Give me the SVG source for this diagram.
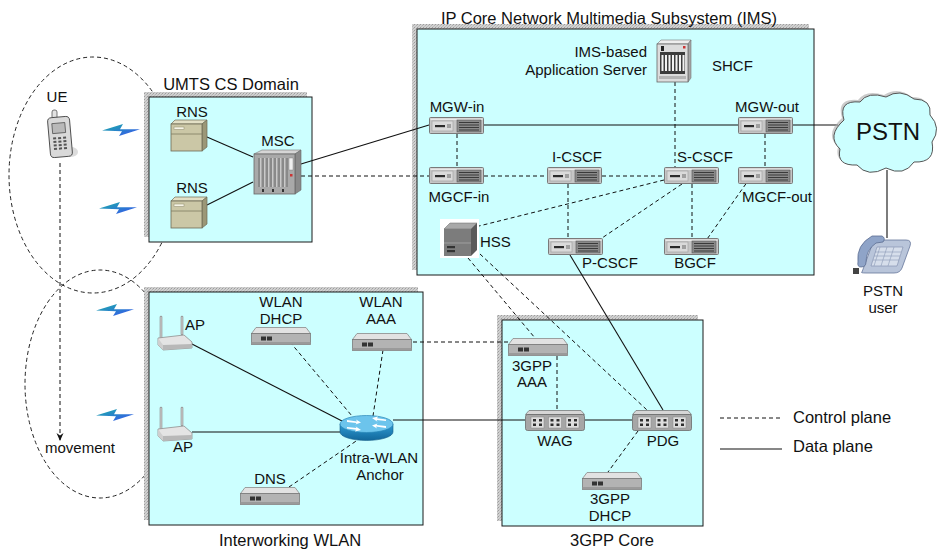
<svg xmlns="http://www.w3.org/2000/svg" width="937" height="550" viewBox="0 0 937 550">
<style>
  text{font-family:"Liberation Sans",Arial,Helvetica,sans-serif;font-size:15px;fill:#111}
  .title{font-size:16.5px}
  .mid{text-anchor:middle}
  .zone{fill:#ccffff;stroke:#1a1a1a;stroke-width:1}
  .shade{fill:url(#grain)}
  .ctl{fill:none;stroke:#111;stroke-width:1;stroke-dasharray:4 3}
  .dat{fill:none;stroke:#111;stroke-width:1.1}
  .cell{fill:none;stroke:#222;stroke-width:1;stroke-dasharray:4 3}
</style>
<defs>
  <pattern id="grain" width="3" height="3" patternUnits="userSpaceOnUse">
    <rect width="3" height="3" fill="#d0d0d0"/>
    <rect width="1" height="1" fill="#9c9c9c"/>
    <rect x="2" y="1" width="1" height="1" fill="#b2b2b2"/>
    <rect x="1" y="2" width="1" height="1" fill="#bcbcbc"/>
  </pattern>
  <linearGradient id="boltg" x1="0" y1="0" x2="1" y2="1">
    <stop offset="0" stop-color="#19b2a6"/><stop offset="1" stop-color="#3a4ff2"/>
  </linearGradient>
  <linearGradient id="rtr" x1="0" y1="0" x2="0" y2="1">
    <stop offset="0" stop-color="#2e9bd3"/><stop offset="1" stop-color="#12679b"/>
  </linearGradient>
  <marker id="arr" viewBox="0 0 8 8" refX="7" refY="4" markerWidth="8" markerHeight="8" orient="auto" markerUnits="userSpaceOnUse">
    <path d="M0,0.5 L8,4 L0,7.5 L2.5,4Z" fill="#111"/>
  </marker>
  <path id="bolt" d="M0,6.5 L21,0 L18,5.2 L38,5.2 L17,12 L20,7.2Z" fill="url(#boltg)"/>
  <!-- rack-mount server unit, 55x17 -->
  <g id="srv">
    <rect x="0.5" y="0.5" width="54" height="16" rx="1" fill="#c6c6c6" stroke="#7a7a7a"/>
    <rect x="1.5" y="1.5" width="52" height="1.5" fill="#e8e8e8"/>
    <rect x="3" y="4" width="21" height="10" fill="#dadada" stroke="#9a9a9a" stroke-width="0.6"/>
    <rect x="6" y="8" width="10" height="2.2" fill="#2b2b2b"/>
    <rect x="18" y="7" width="4" height="4" fill="#a0a0a0"/>
    <rect x="28" y="3" width="24" height="12" fill="#8a8a8a" stroke="#555" stroke-width="0.6"/>
    <path d="M30 5.5h20M30 8h20M30 10.5h20M30 13h20" stroke="#3a3a3a" stroke-width="1.2"/>
  </g>
  <!-- flat appliance, 60x18 -->
  <g id="app">
    <path d="M5,0.5 H55 L59.5,6.5 H0.5Z" fill="#e2e2e2" stroke="#8a8a8a" stroke-width="0.8"/>
    <rect x="0.5" y="6.5" width="59" height="11" fill="#b3b3b3" stroke="#7a7a7a" stroke-width="0.8"/>
    <rect x="0.5" y="15" width="59" height="2.5" fill="#9a9a9a"/>
    <rect x="10" y="9.5" width="5" height="4" fill="#333"/>
    <rect x="16" y="9.5" width="5" height="4" fill="#333"/>
  </g>
  <!-- gateway with three port blocks, 60x21 -->
  <g id="gw">
    <path d="M4,0.5 H56 L59.5,4.5 H0.5Z" fill="#d6d6d6" stroke="#7a7a7a" stroke-width="0.8"/>
    <rect x="0.5" y="4.5" width="59" height="16" rx="2" fill="#a6a6a6" stroke="#6b6b6b" stroke-width="0.8"/>
    <g fill="#dedede" stroke="#888" stroke-width="0.5">
      <rect x="6" y="7" width="13" height="11"/><rect x="23.5" y="7" width="13" height="11"/><rect x="41" y="7" width="13" height="11"/>
    </g>
    <g fill="#2e2e2e">
      <rect x="8" y="9" width="3" height="2.5"/><rect x="14" y="9" width="3" height="2.5"/><rect x="8" y="13.5" width="3" height="2.5"/><rect x="14" y="13.5" width="3" height="2.5"/>
      <rect x="25.5" y="9" width="3" height="2.5"/><rect x="31.5" y="9" width="3" height="2.5"/><rect x="25.5" y="13.5" width="3" height="2.5"/><rect x="31.5" y="13.5" width="3" height="2.5"/>
      <rect x="43" y="9" width="3" height="2.5"/><rect x="49" y="9" width="3" height="2.5"/><rect x="43" y="13.5" width="3" height="2.5"/><rect x="49" y="13.5" width="3" height="2.5"/>
    </g>
  </g>
  <!-- wireless access point, origin at top-left of the icon -->
  <g id="ap">
    <path d="M3,0 v21" stroke="#8c8c8c" stroke-width="2.6" stroke-linecap="round"/>
    <path d="M3,0 v21" stroke="#e0e0e0" stroke-width="1" stroke-linecap="round"/>
    <path d="M24,0 v17" stroke="#8c8c8c" stroke-width="2.6" stroke-linecap="round"/>
    <path d="M24,0 v17" stroke="#e0e0e0" stroke-width="1" stroke-linecap="round"/>
    <path d="M0,21 L26,18 L34,25 L34,31 L5,33 L0,28Z" fill="#e4e4e4" stroke="#8f8f8f" stroke-width="0.8"/>
    <path d="M5,33 L34,31 L34,27 L5,28Z" fill="#b8b8b8"/>
    <path d="M0,21 L5,28 L5,33 L0,28Z" fill="#cfcfcf"/>
  </g>
  <!-- radio network subsystem cabinet -->
  <g id="rns">
    <path d="M0,4 L4,0 H36 L31,4Z" fill="#e3e0c6" stroke="#6d6a55" stroke-width="0.7"/>
    <path d="M31,4 L36,0 V27 L31,31Z" fill="#9b9777" stroke="#6d6a55" stroke-width="0.7"/>
    <rect x="0" y="4" width="31" height="27" fill="#cbc7a6" stroke="#6d6a55" stroke-width="0.8"/>
    <path d="M0,14 H31" stroke="#7f7b60" stroke-width="0.8"/>
    <rect x="3" y="7" width="10" height="2.5" fill="#f6f4e6" stroke="#8a8668" stroke-width="0.5"/>
  </g>
</defs>

<!-- radio coverage cells -->
<g id="cells">
  <ellipse class="cell" cx="93" cy="175" rx="84" ry="118"/>
  <ellipse class="cell" cx="100" cy="384" rx="75" ry="114"/>
</g>

<!-- domains -->
<g id="zone-umts">
  <rect class="shade" x="144" y="92" width="163" height="145"/>
  <rect class="zone" x="149" y="97" width="163" height="145"/>
  <text class="title mid" x="231" y="90">UMTS CS Domain</text>
</g>
<g id="zone-ims">
  <rect class="shade" x="412" y="24" width="397" height="246"/>
  <rect class="zone" x="417" y="29" width="397" height="246"/>
  <text class="title mid" x="609" y="24">IP Core Network Multimedia Subsystem (IMS)</text>
</g>
<g id="zone-wlan">
  <rect class="shade" x="144" y="287" width="274" height="233"/>
  <rect class="zone" x="149" y="292" width="274" height="233"/>
  <text class="title mid" x="290" y="546">Interworking WLAN</text>
</g>
<g id="zone-3gpp">
  <rect class="shade" x="497" y="315" width="201" height="206"/>
  <rect class="zone" x="502" y="320" width="201" height="206"/>
  <text class="title mid" x="612" y="546">3GPP Core</text>
</g>

<!-- connectors -->
<g id="connectors">
  <!-- data plane -->
  <path class="dat" d="M207,137 L253,157"/>
  <path class="dat" d="M207,205 L253,182"/>
  <path class="dat" d="M301,164 L429,125"/>
  <path class="dat" d="M484,125 H738"/>
  <path class="dat" d="M793,125 H838"/>
  <path class="dat" d="M887,170 V238"/>
  <path class="dat" d="M570,255 L663,410"/>
  <path class="dat" d="M190,343 L342,421"/>
  <path class="dat" d="M192,432 H341"/>
  <path class="dat" d="M393,420 H525"/>
  <path class="dat" d="M585,420 H632"/>
  <!-- control plane -->
  <path class="ctl" d="M301,176 H429"/>
  <path class="ctl" d="M484,176 H547"/>
  <path class="ctl" d="M602,176 H664"/>
  <path class="ctl" d="M457,134 V167"/>
  <path class="ctl" d="M765,134 V167"/>
  <path class="ctl" d="M675,82 V167"/>
  <path class="ctl" d="M568,184 V238"/>
  <path class="ctl" d="M664,180 L479,226"/>
  <path class="ctl" d="M682,184 L602,238"/>
  <path class="ctl" d="M692,184 V238"/>
  <path class="ctl" d="M750,178 L705,242"/>
  <path class="ctl" d="M468,258 L535,338"/>
  <path class="ctl" d="M480,254 L647,410"/>
  <path class="ctl" d="M290,342 L352,416"/>
  <path class="ctl" d="M383,350 L373,416"/>
  <path class="ctl" d="M289,487 L362,437"/>
  <path class="ctl" d="M413,342 H508"/>
  <path class="ctl" d="M557,356 V410"/>
  <path class="ctl" d="M638,431 L608,472"/>
  <path class="ctl" d="M60,163 V440" marker-end="url(#arr)"/>
</g>

<!-- UE -->
<g id="ue">
  <ellipse cx="71" cy="152" rx="7" ry="5" fill="#dcdcdc"/>
  <rect x="52" y="110" width="5" height="10" rx="2" fill="#e2e2e2" stroke="#555" stroke-width="0.8"/>
  <g transform="rotate(-5 60 137)">
    <rect x="49" y="117" width="22" height="40" rx="4" fill="#d9d9d9" stroke="#444" stroke-width="0.9"/>
    <rect x="53" y="123" width="13" height="10" fill="#b9b9b9" stroke="#444" stroke-width="0.7"/>
    <g fill="#555">
      <rect x="53" y="137" width="3" height="2"/><rect x="58" y="137" width="3" height="2"/><rect x="63" y="137" width="3" height="2"/>
      <rect x="53" y="140.5" width="3" height="2"/><rect x="58" y="140.5" width="3" height="2"/><rect x="63" y="140.5" width="3" height="2"/>
      <rect x="53" y="144" width="3" height="2"/><rect x="58" y="144" width="3" height="2"/><rect x="63" y="144" width="3" height="2"/>
      <rect x="53" y="147.5" width="3" height="2"/><rect x="58" y="147.5" width="3" height="2"/><rect x="63" y="147.5" width="3" height="2"/>
    </g>
  </g>
  <text class="mid" x="57" y="102">UE</text>
  <text x="45" y="453">movement</text>
</g>

<!-- radio links -->
<g id="radio">
  <use href="#bolt" x="102" y="124"/>
  <use href="#bolt" x="99" y="202"/>
  <use href="#bolt" x="96" y="304"/>
  <use href="#bolt" x="96" y="409"/>
</g>

<!-- UMTS CS domain nodes -->
<g id="rns-1">
  <use href="#rns" x="171" y="120"/>
  <text class="mid" x="192" y="117">RNS</text>
</g>
<g id="rns-2">
  <use href="#rns" x="171" y="197"/>
  <text class="mid" x="192" y="193">RNS</text>
</g>
<g id="msc">
  <path d="M254,154 L262,150 H301 L295,154Z" fill="#d6d6d6" stroke="#777" stroke-width="0.6"/>
  <path d="M295,154 L301,150 V190 L295,194Z" fill="#8a8a8a" stroke="#666" stroke-width="0.6"/>
  <rect x="254" y="154" width="41" height="40" fill="#a9a9a9" stroke="#666" stroke-width="0.8"/>
  <g stroke="#6a6a6a" stroke-width="1">
    <path d="M259,158 V187M263,158 V187M267,158 V187M271,158 V187M275,158 V187M279,158 V187M283,158 V187M287,158 V187"/>
  </g>
  <g stroke="#d2d2d2" stroke-width="0.8">
    <path d="M260.5,158 V187M264.5,158 V187M268.5,158 V187M272.5,158 V187M276.5,158 V187M280.5,158 V187M284.5,158 V187"/>
  </g>
  <rect x="289" y="158" width="4" height="12" fill="#efefef" stroke="#777" stroke-width="0.4"/>
  <rect x="290" y="174" width="2.5" height="2.5" fill="#c33"/>
  <g fill="#333"><rect x="262" y="189" width="2" height="3"/><rect x="272" y="189" width="2" height="3"/><rect x="282" y="189" width="2" height="3"/></g>
  <text class="mid" x="278" y="146">MSC</text>
</g>

<!-- IMS nodes -->
<g id="shcf">
  <path d="M657,44 L661,40 H691 L688,44Z" fill="#eeeeee" stroke="#777" stroke-width="0.6"/>
  <path d="M688,44 L691,40 V78 L688,82Z" fill="#a6a6a6" stroke="#777" stroke-width="0.6"/>
  <rect x="657" y="44" width="31" height="38" fill="#dcdcdc" stroke="#666" stroke-width="0.8"/>
  <rect x="660" y="52" width="25" height="22" fill="#3c3c3c"/>
  <g fill="#f2f2f2">
    <rect x="661.5" y="55" width="2" height="16"/><rect x="665" y="55" width="2" height="16"/><rect x="668.5" y="55" width="2" height="16"/>
    <rect x="672" y="55" width="2" height="16"/><rect x="675.5" y="55" width="2" height="16"/><rect x="679" y="55" width="2" height="16"/><rect x="682.5" y="55" width="2" height="16"/>
  </g>
  <rect x="661" y="46" width="3" height="5" fill="#222"/>
  <rect x="683" y="46" width="2.5" height="2.5" fill="#c33"/>
  <rect x="659" y="76" width="27" height="3" fill="#b5b5b5"/>
  <text x="647" y="57" text-anchor="end">IMS-based</text>
  <text x="647" y="75" text-anchor="end">Application Server</text>
  <text x="712" y="71">SHCF</text>
</g>
<g id="mgw-in">
  <use href="#srv" x="429" y="117"/>
  <text class="mid" x="457" y="112">MGW-in</text>
</g>
<g id="mgw-out">
  <use href="#srv" x="738" y="117"/>
  <text class="mid" x="767" y="112">MGW-out</text>
</g>
<g id="mgcf-in">
  <use href="#srv" x="429" y="167"/>
  <text class="mid" x="459" y="202">MGCF-in</text>
</g>
<g id="i-cscf">
  <use href="#srv" x="547" y="167"/>
  <text class="mid" x="577" y="162">I-CSCF</text>
</g>
<g id="s-cscf">
  <use href="#srv" x="664" y="167"/>
  <text x="677" y="162">S-CSCF</text>
</g>
<g id="mgcf-out">
  <use href="#srv" x="738" y="167"/>
  <text x="742" y="202">MGCF-out</text>
</g>
<g id="hss">
  <rect x="440" y="219" width="39" height="39" fill="#ffffff"/>
  <path d="M444,229 L450,223 H477 L471,229Z" fill="#a9a9a9" stroke="#666" stroke-width="0.5"/>
  <path d="M471,229 L477,223 V250 L471,256Z" fill="#5a5a5a"/>
  <rect x="444" y="229" width="27" height="27" fill="#7c7c7c"/>
  <path d="M444,243 H471" stroke="#a8a8a8" stroke-width="0.8"/>
  <rect x="447" y="246" width="8" height="2.2" fill="#333"/>
  <rect x="447" y="250" width="8" height="2.2" fill="#333"/>
  <text x="480" y="247">HSS</text>
</g>
<g id="p-cscf">
  <use href="#srv" x="548" y="238"/>
  <text x="582" y="268">P-CSCF</text>
</g>
<g id="bgcf">
  <use href="#srv" x="664" y="238"/>
  <text class="mid" x="695" y="268">BGCF</text>
</g>

<!-- PSTN -->
<g id="pstn">
  <path d="M844,120 Q838,100 860,102 Q868,91 886,97 Q900,88 914,99 Q932,99 930,115 Q942,128 932,142 Q936,163 914,162 Q904,177 886,168 Q868,178 857,165 Q836,166 840,149 Q826,136 844,120Z" fill="#a9a9a9" transform="translate(-2,-2)" opacity="0.6"/>
  <path d="M844,120 Q838,100 860,102 Q868,91 886,97 Q900,88 914,99 Q932,99 930,115 Q942,128 932,142 Q936,163 914,162 Q904,177 886,168 Q868,178 857,165 Q836,166 840,149 Q826,136 844,120Z" fill="#ccffff" stroke="#555" stroke-width="1"/>
  <text class="mid" x="888" y="140" style="font-size:24px">PSTN</text>
</g>
<g id="pstn-user">
  <path d="M862,272 L872,245 Q874,240 880,240 H906 Q912,240 910,246 L902,268 Q900,273 894,273 H866 Q860,273 862,272Z" fill="#b9c5da" stroke="#66769a" stroke-width="0.8"/>
  <path d="M877,247 H903 L897,266 H871Z" fill="#d6deeb" stroke="#7d8cab" stroke-width="0.6"/>
  <g stroke="#8a98b6" stroke-width="0.6"><path d="M875,252 H901M874,256 H900M873,260 H899M880,247 L874,266M887,247 L881,266M894,247 L888,266"/></g>
  <path d="M858,262 Q856,245 872,236 L882,236 Q886,238 883,242 L876,243 Q866,250 866,262 Q866,267 861,267 Q857,267 858,262Z" fill="#8fa4c8" stroke="#5c6d92" stroke-width="0.8"/>
  <rect x="853" y="268" width="6" height="6" fill="#444"/>
  <text class="mid" x="883" y="296">PSTN</text>
  <text class="mid" x="883" y="313">user</text>
</g>

<!-- Interworking WLAN nodes -->
<g id="ap-1">
  <use href="#ap" x="158" y="317"/>
  <text x="185" y="330">AP</text>
</g>
<g id="ap-2">
  <use href="#ap" x="158" y="408"/>
  <text class="mid" x="183" y="452">AP</text>
</g>
<g id="wlan-dhcp">
  <use href="#app" x="251" y="327"/>
  <text class="mid" x="281" y="307">WLAN</text>
  <text class="mid" x="281" y="324">DHCP</text>
</g>
<g id="wlan-aaa">
  <use href="#app" x="352" y="333"/>
  <text class="mid" x="381" y="307">WLAN</text>
  <text class="mid" x="381" y="324">AAA</text>
</g>
<g id="dns">
  <use href="#app" x="240" y="487"/>
  <text class="mid" x="270" y="484">DNS</text>
</g>
<g id="anchor">
  <path d="M340,424 V432 A26.5,8.5 0 0 0 393,432 V424Z" fill="url(#rtr)" stroke="#1a5f8a" stroke-width="0.6"/>
  <ellipse cx="366.5" cy="424" rx="26.5" ry="8.5" fill="#6cc4ec" stroke="#2a86b8" stroke-width="0.7"/>
  <g fill="#ffffff">
    <path d="M347,420 L357,421.5 L356,419.5 L361,422.5 L355.5,424.5 L356.5,423 L347,422Z"/>
    <path d="M386,428 L376,426.5 L377,428.5 L372,425.5 L377.5,423.5 L376.5,425 L386,426Z"/>
    <path d="M372,418 L378,416.5 L377,418.3 L386,419.5 L386,421 L376.5,420 L377.5,421.7Z"/>
    <path d="M361,430 L355,431.5 L356,429.7 L347,428.5 L347,427 L356.5,428 L355.5,426.3Z"/>
  </g>
  <text class="mid" x="379" y="463">Intra-WLAN</text>
  <text class="mid" x="380" y="480">Anchor</text>
</g>

<!-- 3GPP core nodes -->
<g id="aaa-3gpp">
  <use href="#app" x="508" y="338"/>
  <text class="mid" x="532" y="371">3GPP</text>
  <text class="mid" x="532" y="387">AAA</text>
</g>
<g id="wag">
  <use href="#gw" x="525" y="410"/>
  <text class="mid" x="555" y="446">WAG</text>
</g>
<g id="pdg">
  <use href="#gw" x="632" y="410"/>
  <text class="mid" x="663" y="446">PDG</text>
</g>
<g id="dhcp-3gpp">
  <use href="#app" x="582" y="472"/>
  <text class="mid" x="610" y="504">3GPP</text>
  <text class="mid" x="610" y="521">DHCP</text>
</g>

<!-- legend -->
<g id="legend">
  <path class="ctl" d="M720,418 H782"/>
  <text class="title" x="793" y="423">Control plane</text>
  <path class="dat" d="M720,449 H782"/>
  <text class="title" x="793" y="452">Data plane</text>
</g>
</svg>
